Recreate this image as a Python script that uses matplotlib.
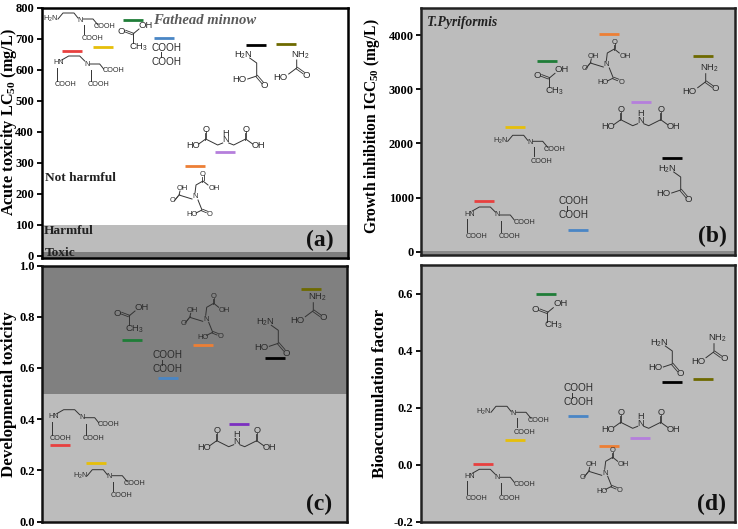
import matplotlib
matplotlib.use("Agg")
import matplotlib.pyplot as plt

plt.rcParams['font.family'] = ['Liberation Serif', 'DejaVu Serif']
plt.rcParams['mathtext.fontset'] = 'custom'
plt.rcParams['mathtext.bf'] = 'Liberation Serif:bold'
plt.rcParams['mathtext.rm'] = 'Liberation Serif'
plt.rcParams['mathtext.default'] = 'regular'

W, H = 738, 529
compounds = ['red', 'yellow', 'green', 'blue', 'orange', 'purple', 'black', 'olive']
bar_colors = ['#e8403f', '#e6bf0a', '#1f7d38', '#4a86c5', '#ed7f35', '#b57fdc', '#000000', '#6e6a00']
colors_c = ['#e8403f', '#e6bf0a', '#1f7d38', '#4a86c5', '#ed7f35', '#7c2fc0', '#000000', '#6e6a00']

lc50 = [661, 673, 762, 702, 288, 334, 679, 684]
igc50 = [930, 2308, 3515, 406, 4019, 2764, 1735, 3607]
dev_tox = [0.30, 0.23, 0.71, 0.56, 0.69, 0.38, 0.64, 0.91]
bcf = [0.003, 0.085, 0.60, 0.17, 0.066, 0.095, 0.29, 0.30]

x_a = [1, 2, 3, 4, 5, 6, 7, 8]
x_b = [2, 3, 4, 5, 6, 7, 8, 9]
x_c = [0.5, 1.5, 2.5, 3.5, 4.5, 5.5, 6.5, 7.5]
x_d = [2, 3, 4, 5, 6, 7, 8, 9]

ticks_a = [0, 100, 200, 300, 400, 500, 600, 700, 800]
ticks_b = [0, 1000, 2000, 3000, 4000]
ticks_c = [0.0, 0.2, 0.4, 0.6, 0.8, 1.0]
ticks_d = [-0.2, 0.0, 0.2, 0.4, 0.6]

# Structure sketches: local pixel offsets around the central atom
MOLS = {
    'yellow': dict(fs=5.2, lines=[[(-22, -1), (-17, -7), (-6, -7), (-2, -2)], [(3, -1), (13, -1), (18, 5)], [(4, 5), (4, 14)]],
                   dbl=[], labels=[(-29, -1, 'H$_2$N'), (0, 0, 'N'), (25, 7, 'COOH'), (12, 19, 'COOH')]),
    'red': dict(fs=5.2, lines=[[(-25, -4), (-18, -8), (-7, -8), (-2, -3)], [(3, 0), (13, 0), (17, 5)], [(4, 6), (4, 17)], [(-30, 4), (-30, 17)]],
                dbl=[], labels=[(-28, -1, 'HN'), (0, 0, 'N'), (27, 7, 'COOH'), (12, 21, 'COOH'), (-21, 21, 'COOH')]),
    'green': dict(fs=6.8, lines=[[(0, 1), (6, -4)], [(0, 1), (0, 10)]], dbl=[((-8, -2), (0, 1))],
                  labels=[(-12, -2, 'O'), (13, -8, 'OH'), (6, 14, 'CH$_3$')]),
    'blue': dict(fs=7.2, lines=[[(-6, -2.5), (-6, 2.5)]], dbl=[], labels=[(0, -7, 'COOH'), (0, 7, 'COOH')]),
    'orange': dict(fs=5.4, lines=[[(0, -4), (1, -12), (8, -16), (13, -12)], [(-3, 2), (-16, -2), (-15, -6)], [(3, 3), (7, 13), (1, 16)]],
                   dbl=[((8, -16), (8, -21)), ((-16, -2), (-20, 3)), ((7, 13), (12, 15))],
                   labels=[(0, 0, 'N'), (8, -23, 'O'), (19, -9, 'OH'), (-22, 4, 'O'), (-13, -9, 'OH'), (15, 17, 'O'), (-3, 18, 'HO')]),
    'purple': dict(fs=6.6, lines=[[(-3, 3), (-8, 5), (-20, -1), (-27, 4)], [(3, 3), (8, 5), (20, -1), (27, 4)]],
                   dbl=[((-20, -1), (-20, -8)), ((20, -1), (20, -8))],
                   labels=[(0, -7, 'H'), (0, 0, 'N'), (-20, -11, 'O'), (-33, 6, 'HO'), (20, -11, 'O'), (33, 6, 'OH')]),
    'black': dict(fs=6.8, lines=[[(-7, -18), (0, -13), (0, 0), (-9, 3)]], dbl=[((0, 0), (6, 7))],
                  labels=[(-13, -21, 'H$_2$N'), (8, 10, 'O'), (-17, 4, 'HO')]),
    'olive': dict(fs=6.8, lines=[[(0, -8), (0, 0), (-8, 6)]], dbl=[((0, 0), (7, 5))],
                  labels=[(4, -13, 'NH$_2$'), (10, 7, 'O'), (-16, 10, 'HO')]),
}
pos_a = dict(yellow=(80, 20), red=(86.7, 64), green=(133, 33), blue=(167, 54.7), orange=(195, 197),
             purple=(225.7, 140), black=(256.7, 76), olive=(296.7, 68))
pos_b = dict(yellow=(529.7, 142.3), red=(497.3, 215), green=(549, 77.3), blue=(573.3, 208), orange=(606.3, 65),
             purple=(640.7, 120.7), black=(680.7, 190), olive=(705.7, 81.7))
pos_c = dict(yellow=(109.3, 476.7), red=(81.7, 417.7), green=(129, 315), blue=(167.7, 362), orange=(205.7, 319.3),
             purple=(236.7, 441.7), black=(278.3, 343.3), olive=(313.3, 310.7))
pos_d = dict(yellow=(513, 413.3), red=(497.3, 477.3), green=(547.3, 311.7), blue=(578.3, 395), orange=(604.7, 473.3),
             purple=(640.7, 423.3), black=(672.3, 364), olive=(714, 351.7))

fig = plt.figure(figsize=(W / 100, H / 100), dpi=100, facecolor='white')


def px_axes(l, t, r, b):
    return fig.add_axes([l / W, 1 - b / H, (r - l) / W, (b - t) / H])


def panel(box, xs, vals, cols, xlim, ylim, ticks, fmt, label, labelx, labely, labelfs, tag, tagx, tagy, frame='#111111', bg='white'):
    ax = px_axes(*box)
    ax.set_xlim(*xlim)
    ax.set_ylim(*ylim)
    ax.set_facecolor(bg)
    unit = (xlim[1] - xlim[0]) / (box[2] - box[0])
    half = 10 * unit
    ax.hlines(vals, [x - half for x in xs], [x + half for x in xs], colors=cols, lw=2.0, zorder=4)
    ax.set_xticks([])
    ax.set_yticks(ticks)
    ax.set_yticklabels([fmt.format(t) for t in ticks], fontsize=9, fontweight='bold')
    ax.tick_params(axis='y', length=3.5, width=1.4, pad=2, color='#111111')
    for s in ax.spines.values():
        s.set_linewidth(1.8)
        s.set_color(frame)
    fig.text(labelx / W, 1 - labely / H, label, rotation=90, fontsize=labelfs, fontweight='bold',
             ha='center', va='center')
    ov.text(tagx, tagy, tag, fontsize=17, fontweight='bold', ha='center', va='center', color='#111111', zorder=9)
    return ax


ov = fig.add_axes([0, 0, 1, 1], zorder=10)
ov.set_xlim(0, W)
ov.set_ylim(H, 0)
ov.axis('off')
ov.patch.set_alpha(0)

ax_a = panel((41.7, 8, 347.5, 258), x_a, lc50, bar_colors, (0, 10), (-8, 800), ticks_a, '{:d}',
             r'Acute toxicity LC$\mathbf{_{50}}$ (mg/L)', 9, 122, 11.7, '(a)', 320, 240, frame='#000000')
ax_a.axhspan(-8, 10, color='#7e7e7e', lw=0, zorder=1)
ax_a.axhspan(10, 100, color='#bcbcbc', lw=0, zorder=1)

ax_b = panel((421.3, 8, 734.5, 255), x_b, igc50, bar_colors, (0, 10), (-60, 4500), ticks_b, '{:d}',
             r'Growth inhibition IGC$\mathbf{_{50}}$ (mg/L)', 372, 126.5, 11.2, '(b)', 712, 236, frame='#222222', bg='#bcbcbc')
ax_b.axhspan(-60, 10, color='#8a8a8a', lw=0, zorder=1)

ax_c = panel((42.3, 265.5, 346.7, 521.7), x_c, dev_tox, colors_c, (0, 8.5), (0, 1), ticks_c, '{:.1f}',
             'Developmental toxicity', 9, 394, 12.2, '(c)', 319, 504, frame='#111111', bg='#bcbcbc')
ax_c.axhspan(0.5, 1, color='#808080', lw=0, zorder=1)

ax_d = panel((420.7, 265, 734.5, 521.7), x_d, bcf, bar_colors, (0, 10), (-0.2, 0.7), ticks_d, '{:.1f}',
             'Bioaccumulation factor', 380, 393, 12.2, '(d)', 712, 504, frame='#222222', bg='#bcbcbc')

# Region and species annotations
ov.text(153, 20, 'Fathead minnow', fontsize=10.5, fontweight='bold', style='italic', color='#5a5a5a', va='center', zorder=9)
ov.text(427, 22.5, 'T.Pyriformis', fontsize=9.8, fontweight='bold', style='italic', color='#222222', va='center', zorder=9)
ov.text(45, 178, 'Not harmful', fontsize=9.6, fontweight='bold', color='#222222', va='center', zorder=9)
ov.text(44, 231, 'Harmful', fontsize=9.6, fontweight='bold', color='#222222', va='center', zorder=9)
ov.text(45, 253, 'Toxic', fontsize=9.6, fontweight='bold', color='#222222', va='center', zorder=9)


def draw_mol(name, cx, cy):
    m = MOLS[name]
    for line in m['lines']:
        ov.plot([cx + p[0] for p in line], [cy + p[1] for p in line], color='#333333', lw=0.7, zorder=6)
    for p, q in m['dbl']:
        for off in (-0.7, 0.7):
            ov.plot([cx + p[0] + off, cx + q[0] + off], [cy + p[1] - off, cy + q[1] - off], color='#333333', lw=0.6, zorder=6)
    for dx, dy, s in m['labels']:
        ov.text(cx + dx, cy + dy, s, fontsize=m['fs'], family='Liberation Sans', color='#2c2c2c', ha='center',
                va='center', zorder=7)


for pos in (pos_a, pos_b, pos_c, pos_d):
    for name in compounds:
        draw_mol(name, *pos[name])

fig.savefig('out.png', dpi=100)
